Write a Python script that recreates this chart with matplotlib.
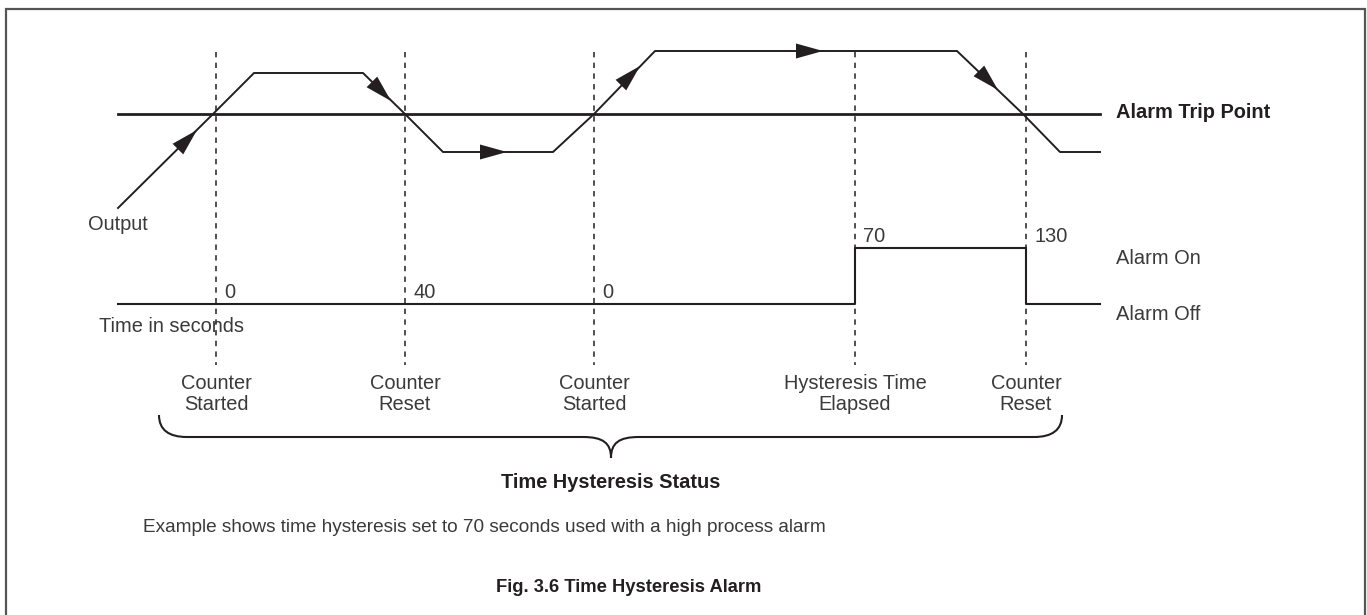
import numpy as np
import matplotlib.pyplot as plt
from matplotlib.path import Path
from matplotlib.patches import PathPatch, Polygon

plt.rcParams['font.family'] = ['Liberation Sans', 'DejaVu Sans']

# diagram coordinates (pixel space, y down)
trip_y = 114
trip_x = [118, 1100]

output_x = [118, 213, 254, 363, 405, 443, 553, 594, 655, 957, 1023, 1060, 1100]
output_y = [208, 114, 73, 73, 114, 152, 152, 114, 51, 51, 114, 152, 152]

alarm_x = [118, 855, 855, 1026, 1026, 1100]
alarm_y = [304, 304, 248, 248, 304, 304]

event_x = [216, 405, 594, 855, 1026]
event_labels = ["Counter\nStarted", "Counter\nReset", "Counter\nStarted",
                "Hysteresis Time\nElapsed", "Counter\nReset"]
count_labels = ["0", "40", "0", "70", "130"]
count_y = [293, 293, 293, 237, 237]

# arrow heads: tip and direction
arrow_tips = [(197, 130), (391, 101), (507, 152), (640, 66), (823, 51), (998, 90)]
arrow_dirs = [(1, -1), (1, 1), (1, 0), (1, -1), (1, 0), (1, 1)]

ink = '#231f20'
txt = '#3a3a3a'
fs = 14.4

fig = plt.figure(figsize=(13.67, 6.15), dpi=100)
ax = fig.add_axes([0, 0, 1, 1])
ax.set_xlim(0, 1367)
ax.set_ylim(615, 0)
ax.axis('off')

# frame (top, left, right)
ax.plot([6, 6, 1365, 1365], [615, 9, 9, 615], color='#555555', lw=1.6,
        solid_joinstyle='miter')

# dashed event lines
for x in event_x:
    ax.plot([x, x], [52, 365], color=ink, lw=1.1, ls=(0, (3.5, 3.5)))

ax.plot(trip_x, [trip_y, trip_y], color=ink, lw=2.0)
ax.plot(output_x, output_y, color=ink, lw=1.4)
ax.plot(alarm_x, alarm_y, color=ink, lw=1.5)

# arrow heads
L, W = 27, 15
for (tx, ty), (dx, dy) in zip(arrow_tips, arrow_dirs):
    d = np.array([dx, dy], float)
    d /= np.hypot(*d)
    n = np.array([-d[1], d[0]])
    tip = np.array([tx, ty])
    base = tip - L * d
    tri = [tip, base + n * W / 2, base - n * W / 2]
    ax.add_patch(Polygon(tri, closed=True, color=ink, lw=0))

# brace
bl, br, by, tip_x, tip_y = 159, 1062, 437, 611, 458
verts = [(bl, 415), (bl, 430), (bl + 10, by), (bl + 28, by),
         (tip_x - 28, by),
         (tip_x - 8, by), (tip_x, by + 6), (tip_x, tip_y),
         (tip_x, by + 6), (tip_x + 8, by), (tip_x + 28, by),
         (br - 28, by),
         (br - 10, by), (br, 430), (br, 415)]
codes = [Path.MOVETO, Path.CURVE4, Path.CURVE4, Path.CURVE4,
         Path.LINETO,
         Path.CURVE4, Path.CURVE4, Path.CURVE4,
         Path.CURVE4, Path.CURVE4, Path.CURVE4,
         Path.LINETO,
         Path.CURVE4, Path.CURVE4, Path.CURVE4]
ax.add_patch(PathPatch(Path(verts, codes), fill=False, color=ink, lw=1.5))

# texts
ax.text(88, 225, "Output", fontsize=fs, color=txt, va='center')
ax.text(99, 326, "Time in seconds", fontsize=fs, color=txt, va='center')
for x, lab, cy in zip(event_x, count_labels, count_y):
    ax.text(x + 8, cy, lab, fontsize=fs, color=txt, va='center')
for x, lab in zip(event_x, event_labels):
    ax.text(x, 394, lab, fontsize=fs, color=txt, ha='center', va='center',
            linespacing=1.15)

ax.text(1116, 112, "Alarm Trip Point", fontsize=fs, color=ink,
        fontweight='bold', va='center')
ax.text(1116, 258, "Alarm On", fontsize=fs, color=txt, va='center')
ax.text(1116, 314, "Alarm Off", fontsize=fs, color=txt, va='center')

ax.text(611, 482, "Time Hysteresis Status", fontsize=fs, color=ink,
        fontweight='bold', ha='center', va='center')
ax.text(143, 528, "Example shows time hysteresis set to 70 seconds used with a high process alarm",
        fontsize=13.7, color=txt, va='center')
ax.text(629, 587, "Fig. 3.6 Time Hysteresis Alarm", fontsize=13.2, color=ink,
        fontweight='bold', ha='center', va='center')

fig.savefig('out.png', dpi=100)
